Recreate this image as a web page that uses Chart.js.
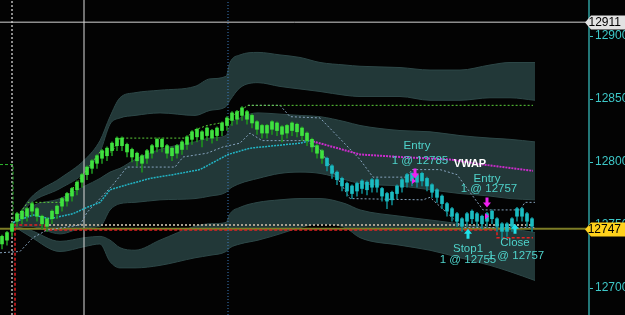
<!DOCTYPE html>
<html>
<head>
<meta charset="utf-8">
<script src="https://cdn.jsdelivr.net/npm/chart.js@4.4.1/dist/chart.umd.min.js"></script>
<style>
  html, body { margin: 0; padding: 0; background: #000; }
  #wrap { width: 625px; height: 315px; }
</style>
</head>
<body>
<div id="wrap"><canvas id="chart" width="625" height="315"></canvas></div>
<script>
// price scale
const yMin = 12678.6;
const yMax = 12928.6;
const yTicks = [12700, 12750, 12800, 12850, 12900];
const lastPrice = 12747;
const highMark = 12911;

// range bars (one per bar index)
const opens = [12735,12738,12745,12753,12755,12757,12761,12763,12757,12755,
  12755,12759,12765,12769,12773,12778,12784,12790,12795,12799,
  12803,12805,12809,12813,12819,12814,12810,12807,12805,12803,
  12807,12812,12818,12813,12811,12807,12810,12814,12818,12820,
  12824,12821,12825,12821,12825,12829,12833,12834,12837,12840,
  12837,12832,12829,12823,12826,12831,12828,12823,12825,12830,
  12827,12823,12818,12813,12809,12803,12797,12792,12787,12783,
  12781,12777,12779,12784,12780,12786,12779,12775,12770,12775,
  12780,12784,12785,12790,12785,12787,12782,12778,12773,12767,
  12763,12759,12755,12753,12755,12759,12757,12753,12755,12755,
  12751,12745,12749,12757,12763,12759,12755];
const highs = [12742,12745,12752,12760,12762,12764,12768,12764,12758,12756,
  12762,12766,12772,12776,12780,12785,12791,12797,12802,12806,
  12810,12812,12816,12820,12820,12815,12811,12808,12806,12810,
  12814,12819,12819,12814,12812,12814,12817,12821,12825,12827,
  12825,12828,12826,12828,12832,12836,12840,12841,12844,12841,
  12838,12833,12830,12830,12833,12832,12829,12830,12832,12831,
  12828,12824,12819,12814,12810,12804,12798,12793,12788,12784,
  12782,12784,12786,12785,12787,12787,12780,12776,12777,12782,
  12787,12791,12792,12791,12792,12788,12783,12779,12774,12768,
  12764,12760,12756,12760,12762,12760,12758,12760,12762,12756,
  12752,12752,12756,12764,12764,12760,12756];
const lows = [12731,12734,12741,12749,12751,12753,12757,12753,12747,12745,
  12751,12755,12761,12765,12769,12774,12780,12786,12791,12795,
  12799,12801,12805,12809,12809,12804,12800,12797,12792,12799,
  12803,12808,12808,12803,12801,12803,12806,12810,12814,12816,
  12812,12817,12815,12817,12821,12825,12829,12830,12833,12830,
  12827,12822,12819,12819,12822,12821,12816,12819,12821,12820,
  12817,12813,12808,12803,12799,12793,12787,12782,12777,12773,
  12771,12773,12775,12774,12776,12776,12769,12763,12766,12771,
  12776,12780,12781,12780,12781,12777,12772,12768,12763,12757,
  12753,12749,12745,12749,12751,12749,12747,12749,12751,12745,
  12739,12741,12745,12753,12753,12749,12745];
const closes = [12741,12744,12751,12759,12761,12763,12767,12757,12751,12749,
  12761,12765,12771,12775,12779,12784,12790,12796,12801,12805,
  12809,12811,12815,12819,12813,12808,12804,12801,12799,12809,
  12813,12818,12812,12807,12805,12813,12816,12820,12824,12826,
  12818,12827,12819,12827,12831,12835,12839,12840,12843,12834,
  12831,12826,12823,12829,12832,12825,12822,12829,12831,12824,
  12821,12817,12812,12807,12803,12797,12791,12786,12781,12777,
  12775,12783,12785,12778,12786,12780,12773,12769,12776,12781,
  12786,12790,12791,12784,12791,12781,12776,12772,12767,12761,
  12757,12753,12749,12759,12761,12753,12751,12759,12761,12749,
  12745,12751,12755,12763,12757,12753,12749];
const lastGreenBar = 64;

// VWAP bands, sampled along the bar index
const bandX = [2.4,5.6,11.6,16.6,19.6,21.6,23.6,26.6,31.6,38.6,41.6,44.8,45.6,47.6,51.2,55.6,59.6,63.6,68.6,71.6,79.6,85.6,91.6,97.6,101.6,106.6];
const upper3 = [12751,12771,12787,12802,12817,12836,12851,12855,12857,12860,12866,12868,12879,12885,12887,12885,12883,12879,12877,12876,12875,12873,12873,12877,12879,12879];
const upper2 = [12751,12767,12779,12792,12808,12830,12835,12837,12839,12837,12841,12844,12849,12859,12863,12860,12858,12856,12853,12852,12852,12849,12849,12851,12851,12849];
const upper1 = [12751,12764,12771,12781,12787,12792,12795,12802,12810,12816,12819,12821,12829,12835,12839,12838,12837,12836,12832,12829,12825,12824,12821,12819,12818,12816];
const lower1 = [12749,12749,12743,12748,12749,12762,12767,12768,12770,12771,12773,12776,12779,12783,12787,12791,12792,12791,12786,12783,12781,12778,12775,12773,12771,12770];
const lower2 = [12749,12746,12737,12740,12741,12738,12732,12730,12738,12749,12751,12752,12759,12764,12768,12770,12771,12771,12767,12762,12757,12754,12751,12748,12747,12744];
const lower3 = [12749,12741,12729,12733,12735,12721,12716,12716,12718,12724,12726,12729,12732,12735,12738,12743,12748,12751,12748,12740,12734,12730,12724,12718,12713,12706];

// VWAP line (cyan above price, magenta below)
const vwapUpX = [2.2,6.2,9.6,14.2,17,19.6,21.6,25,29.6,34.2,39.6,45.2,49.6,59.6,61.6];
const vwapUpY = [12752,12758,12755,12759,12764,12768,12778,12782,12787,12790,12794,12806,12811,12815,12817];
const vwapDnX = [61.6,66.2,71.6,79.6,89.6,96.2,106.2];
const vwapDnY = [12817,12812,12806,12804,12802,12798,12793];

// swing high line and trailing stops
const swingX = [2.4,3.6,5.2,12,13.2,19.6,22,23.6,37,38.2,41,45,46.2,49.2,106.2];
const swingY = [12752,12760,12768,12768,12774,12808,12808,12819,12819,12825,12829,12832,12837,12845,12845];
const trailLoX = [-0.4,3.6,6.2,9,15.6,17,19.6,22.2,25,34.6,36.2,41,44.2,47.6,49.6,52,60.6,63.6,69.6,84.2,85.6,92.2,106.6];
const trailLoY = [12728,12729,12740,12746,12750,12760,12771,12782,12796,12796,12804,12807,12812,12815,12823,12817,12817,12810,12771,12770,12772,12748,12748];
const trailHiX = [49.2,55.6,57.6,63.6,67,71.6,74.2,81,82,87.6,91,96.2,103.6,104.6,106.6];
const trailHiY = [12845,12845,12836,12835,12821,12802,12788,12788,12794,12794,12790,12762,12762,12768,12768];

// levels
const priorX = [8.6, 106.2];
const priorY = [12750, 12750];
const stopX = [2.6,2.6,8.6,8.6,99,99,106.2];
const stopY = [12678,12750,12750,12746,12746,12740,12740];
const boxX = [-0.4,2.2,2.2];
const boxY = [12798,12798,12750];
const sessionX = 2;
const openX = 16.4;
const markX = 45.2;

// trade notes
const noteText = ['Entry', '1 @ 12785', 'Entry', '1 @ 12757', 'Stop1', '1 @ 12755', 'Close', '1 @ 12757'];
const noteX = [83, 83.6, 97, 97.4, 93.2, 93.2, 102.6, 102.8];
const noteY = [12813, 12801, 12787, 12778.6, 12731, 12722, 12735.7, 12725.4];
const vwapLabel = { x: 93.6, y: 12798.4 };
const sellArrowX = [82.6, 97];
const sellArrowY = [12787, 12764];
const buyArrowX = [93.2, 102.6];
const buyArrowY = [12747, 12751];
const fillMarkX = [82.2, 96.8];
const fillMarkY = [12785, 12757];

const pts = (xs, ys) => xs.map((x, k) => ({ x: x, y: ys[k] }));
const barIdx = opens.map((v, i) => i);

function lineDs(xs, ys, color, width, dash, order, extra) {
  return Object.assign({
    type: 'line',
    data: pts(xs, ys),
    borderColor: color,
    borderWidth: width,
    borderDash: dash,
    pointRadius: 0,
    fill: false,
    tension: 0,
    order: order
  }, extra || {});
}

function bandDs(ys, fill, order) {
  return {
    type: 'line',
    data: pts(bandX, ys),
    borderColor: '#2d4747',
    borderWidth: 1,
    backgroundColor: '#223838',
    pointRadius: 0,
    fill: fill,
    cubicInterpolationMode: 'monotone',
    order: order
  };
}

const bgPlugin = {
  id: 'bg',
  beforeDraw(chart) {
    const c = chart.ctx;
    c.save();
    c.fillStyle = '#030303';
    c.fillRect(0, 0, chart.width, chart.height);
    c.restore();
  }
};

function drawArrow(c, x, y, dir, color) {
  // dir 1 = pointing down (tip at y), -1 = pointing up
  c.beginPath();
  c.moveTo(x, y);
  c.lineTo(x - 4, y - 5 * dir);
  c.lineTo(x - 1.5, y - 5 * dir);
  c.lineTo(x - 1.5, y - 10 * dir);
  c.lineTo(x + 1.5, y - 10 * dir);
  c.lineTo(x + 1.5, y - 5 * dir);
  c.lineTo(x + 4, y - 5 * dir);
  c.closePath();
  c.fillStyle = color;
  c.fill();
}

const notesPlugin = {
  id: 'notes',
  afterDatasetsDraw(chart) {
    const c = chart.ctx;
    const sx = chart.scales.x, sy = chart.scales.y;
    c.save();
    c.textAlign = 'center';
    c.textBaseline = 'middle';
    c.font = '11.5px "Liberation Sans", Arial, sans-serif';
    c.fillStyle = '#4fd3cb';
    noteText.forEach(function (t, k) {
      c.fillText(t, sx.getPixelForValue(noteX[k]), sy.getPixelForValue(noteY[k]));
    });
    c.font = 'bold 11px "Liberation Sans", Arial, sans-serif';
    c.fillStyle = '#ffffff';
    c.fillText('VWAP', sx.getPixelForValue(vwapLabel.x), sy.getPixelForValue(vwapLabel.y));

    sellArrowX.forEach(function (x, k) {
      drawArrow(c, sx.getPixelForValue(x), sy.getPixelForValue(sellArrowY[k]), 1, '#f020f0');
    });
    buyArrowX.forEach(function (x, k) {
      drawArrow(c, sx.getPixelForValue(x), sy.getPixelForValue(buyArrowY[k]), -1, '#20e0e8');
    });
    fillMarkX.forEach(function (x, k) {
      const px = sx.getPixelForValue(x), py = sy.getPixelForValue(fillMarkY[k]);
      c.beginPath();
      c.moveTo(px + 3, py);
      c.lineTo(px - 1, py - 3);
      c.lineTo(px - 1, py + 3);
      c.closePath();
      c.fillStyle = '#f020f0';
      c.fill();
    });
    c.restore();
  }
};

function priceTag(chart, value, fill, text) {
  const c = chart.ctx;
  const y = Math.round(chart.scales.y.getPixelForValue(value)) + 0.5;
  const x0 = chart.chartArea.right - 4;
  const x1 = chart.width;
  c.save();
  c.beginPath();
  c.moveTo(x0, y);
  c.lineTo(x0 + 6, y - 7);
  c.lineTo(x1, y - 7);
  c.lineTo(x1, y + 7);
  c.lineTo(x0 + 6, y + 7);
  c.closePath();
  c.fillStyle = fill;
  c.fill();
  c.fillStyle = '#000';
  c.font = '12px "Liberation Sans", Arial, sans-serif';
  c.textAlign = 'right';
  c.textBaseline = 'middle';
  c.fillText(text, x1 - 4, y + 0.5);
  c.restore();
}

const tagsPlugin = {
  id: 'tags',
  afterDraw(chart) {
    priceTag(chart, highMark, '#e2e2e2', String(highMark));
    priceTag(chart, lastPrice, '#ffd21c', String(lastPrice));
  }
};

const datasets = [
  // bands
  bandDs(upper3, '+1', 40),
  bandDs(upper2, false, 39),
  bandDs(upper1, '+1', 38),
  bandDs(lower1, false, 37),
  bandDs(lower2, '+1', 36),
  bandDs(lower3, false, 35),

  // session / reference lines
  lineDs([sessionX, sessionX], [yMin, yMax], '#8c8c8c', 2, [2, 2], 30),
  lineDs([openX, openX], [yMin, yMax], '#dcdcdc', 1, [], 29),
  lineDs([markX, markX], [yMin, yMax], '#3d7cc0', 1, [1, 2], 28),
  lineDs([-0.4, 117.4], [highMark, highMark], '#d4d4d4', 1, [], 27),
  lineDs([-0.4, 117.4], [lastPrice, lastPrice], '#7d7d26', 2, [], 26),
  lineDs(priorX, priorY, '#aaa08e', 2, [2, 2], 25),
  lineDs(stopX, stopY, '#e42222', 1.5, [3, 2], 24),
  lineDs(boxX, boxY, '#2eb82e', 1, [3, 2], 23),

  // indicators
  lineDs(trailLoX, trailLoY, '#86a3bd', 1, [2, 2], 20),
  lineDs(trailHiX, trailHiY, '#86a3bd', 1, [2, 2], 19),
  lineDs(swingX, swingY, '#5ccf3a', 1, [2, 2], 18),
  lineDs(vwapUpX, vwapUpY, '#22b4c4', 1.5, [2, 1], 17),
  lineDs(vwapDnX, vwapDnY, '#cc2ccc', 2, [2, 1], 16),

  // bars
  {
    type: 'bar',
    data: barIdx.map(i => ({ x: i, y: [lows[i], highs[i]] })),
    backgroundColor: barIdx.map(i => i <= lastGreenBar ? '#1f8f1f' : '#0f8288'),
    barThickness: 1,
    grouped: false,
    order: 2
  },
  {
    type: 'bar',
    data: barIdx.map(i => ({ x: i, y: [opens[i], closes[i]] })),
    backgroundColor: barIdx.map(i => i <= lastGreenBar ? '#3fe23f' : '#1bbcc2'),
    barThickness: 3,
    grouped: false,
    order: 1
  }
];

new Chart(document.getElementById('chart').getContext('2d'), {
  type: 'bar',
  data: { datasets: datasets },
  options: {
    responsive: false,
    animation: false,
    events: [],
    layout: { padding: 0 },
    plugins: {
      legend: { display: false },
      tooltip: { enabled: false }
    },
    scales: {
      x: {
        type: 'linear',
        min: -0.4,
        max: 117.4,
        offset: false,
        display: false
      },
      y: {
        position: 'right',
        min: yMin,
        max: yMax,
        afterBuildTicks: function (s) {
          s.ticks = yTicks.map(v => ({ value: v }));
        },
        afterFit: function (s) {
          s.width = 36;
          s.paddingTop = 0;
          s.paddingBottom = 0;
        },
        border: { display: true, color: '#237777', width: 2 },
        grid: { display: true, drawOnChartArea: false, drawTicks: true, tickLength: 4, color: '#3cc4c4' },
        ticks: {
          color: '#3ec8c8',
          padding: 2,
          font: { family: '"Liberation Sans", Arial, sans-serif', size: 12 },
          callback: v => String(v)
        }
      }
    }
  },
  plugins: [bgPlugin, notesPlugin, tagsPlugin]
});
</script>
</body>
</html>
